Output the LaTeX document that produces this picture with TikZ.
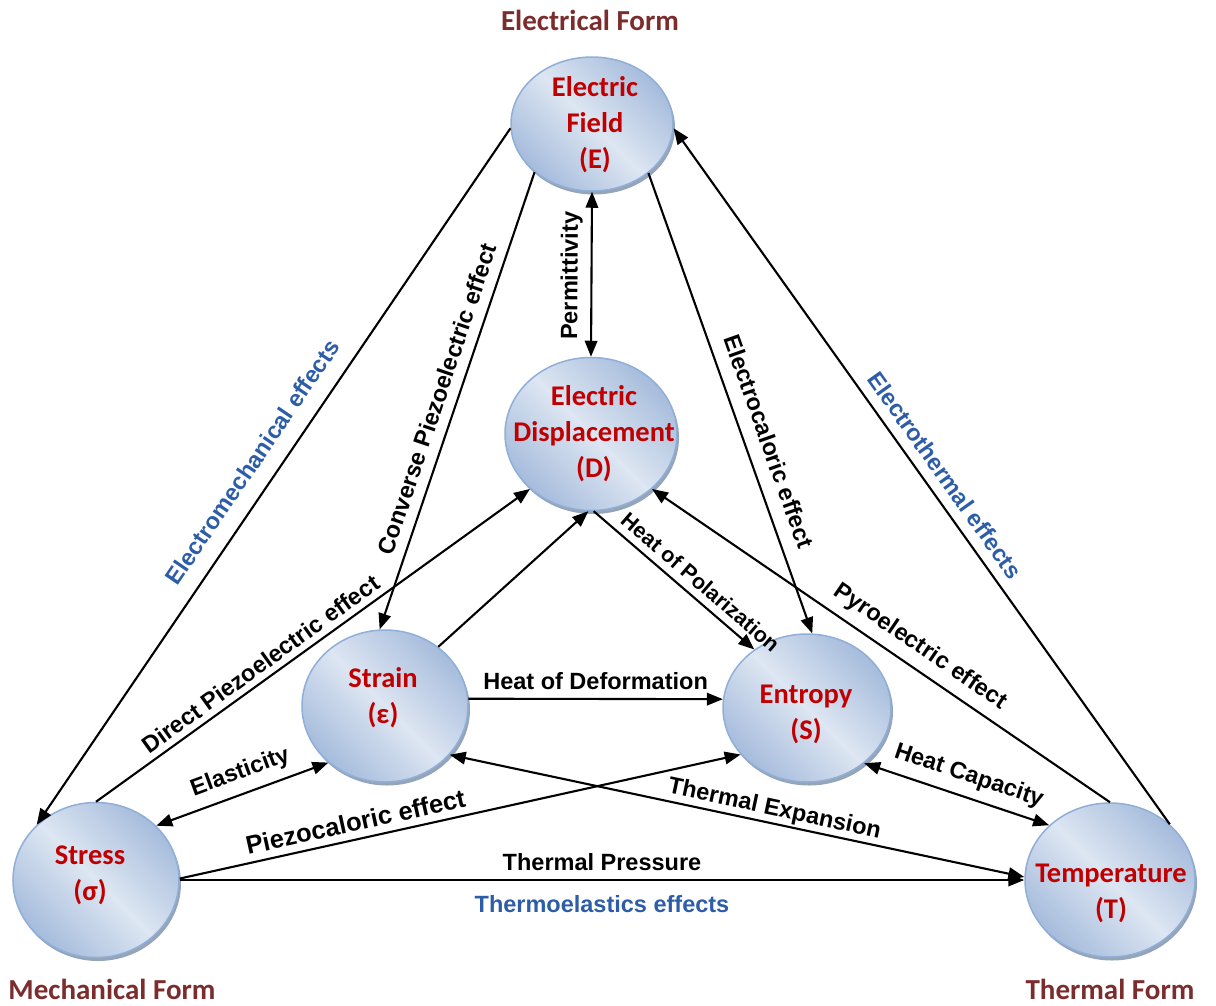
\documentclass[tikz,border=0pt]{standalone}
\usepackage{fontspec}
\setmainfont{Carlito}
\newfontfamily\arialfont{Liberation Sans}
\usetikzlibrary{arrows.meta,shapes.geometric,shadows}
\definecolor{nodered}{HTML}{C00000}
\definecolor{formred}{HTML}{7B2C2C}
\definecolor{effblue}{HTML}{2E5DA8}
\definecolor{nodedark}{HTML}{A6BCDC}
\definecolor{nodelight}{HTML}{DDE6F2}
\definecolor{nodeborder}{HTML}{8FAED8}
\definecolor{shadowcol}{HTML}{7C8DA6}
\begin{document}
\begin{tikzpicture}[x=1pt,y=-1pt,
  state/.style={ellipse, draw=nodeborder, line width=1.5pt, inner sep=0pt,
    top color=nodedark, bottom color=nodedark, middle color=nodelight, shading angle=-45,
    drop shadow={shadow xshift=2pt, shadow yshift=-3.5pt, fill=shadowcol, opacity=0.8}},
  statetext/.style={align=center, inner sep=0pt, text=nodered,
    font=\fontsize{28.5}{36}\selectfont\bfseries},
  con/.style={line width=2.1pt, -{Triangle[length=16pt,width=12.5pt]}},
  bicon/.style={line width=2.1pt, {Triangle[length=16pt,width=12.5pt]}-{Triangle[length=16pt,width=12.5pt]}},
  lab/.style={font=\arialfont\fontsize{23.5}{27}\selectfont\bfseries, sloped, inner sep=0pt},
  blab/.style={lab, text=effblue},
  form/.style={font=\fontsize{29}{34}\selectfont\bfseries, text=formred, inner sep=0pt}
]
\useasboundingbox (0,0) rectangle (1216,1005);

% nodes
\node[state, minimum width=162pt, minimum height=134pt] (E) at (592,124) {};
\node[state, minimum width=172pt, minimum height=153pt] (D) at (591,434) {};
\node[state, minimum width=166pt, minimum height=152pt] (St) at (385,706) {};
\node[state, minimum width=168pt, minimum height=148pt] (En) at (807,708) {};
\node[state, minimum width=166pt, minimum height=155pt] (Ss) at (96,880) {};
\node[state, minimum width=170pt, minimum height=154pt] (T) at (1110,880) {};

\node[statetext] (Et) at (595,125) {Electric\\Field\\(E)};
\node[statetext] (Dt) at (594,434) {Electric\\Displacement\\(D)};
\node[statetext] (Stt) at (383,698) {Strain\\(ε)};
\node[statetext] (Ent) at (806,714) {Entropy\\(S)};
\node[statetext] (Sst) at (90,875) {Stress\\(σ)};
\node[statetext] (Tt) at (1111,893) {Temperature\\(T)};

\node[form] (fE) at (590,20) {Electrical Form};
\node[form] (fM) at (112,989) {Mechanical Form};
\node[form] (fT) at (1110,989) {Thermal Form};

% connectors
\draw[con] (E.183) -- node[blab, above, pos=0.5, outer sep=17pt] {Electromechanical effects} (Ss.137);
\draw[con] (E.220) -- node[lab, above, pos=0.51, outer sep=11pt] {Converse Piezoelectric effect} (St.94);
\draw[bicon] (D.90) -- node[lab, above, pos=0.49, outer sep=9pt] {Permittivity} (E.270);
\draw[con] (E.319) -- node[lab, above, pos=0.6, outer sep=15pt] {Electrocaloric effect} (En.86);
\draw[con] (T.43) -- node[blab, above, pos=0.485, outer sep=11pt] {Electrothermal effects} (E.357);
\draw[con] (Ss.90) -- node[lab, above, pos=0.40, outer sep=7pt] {Direct Piezoelectric effect} (D.222);
\draw[con] (St.48) -- (D.268);
\draw[con] (D.272) -- node[lab, above, pos=0.6, outer sep=8pt, font=\arialfont\fontsize{21.5}{25}\selectfont\bfseries] {Heat of Polarization} (En.132);
\draw[con] (T.90) -- node[lab, above, pos=0.44, outer sep=10pt] {Pyroelectric effect} (D.318);
\draw[con] (St.5) -- node[lab, above, pos=0.5, outer sep=9pt] {Heat of Deformation} (En.174);
\draw[bicon] (Ss.42) -- node[lab, above, pos=0.53, outer sep=10pt] {Elasticity} (St.225);
\draw[bicon] (En.316) -- node[lab, above, pos=0.53, outer sep=10pt] {Heat Capacity} (T.138);
\draw[con] (Ss.1) -- node[lab, above, pos=0.32, outer sep=8pt, font=\arialfont\fontsize{25.5}{29}\selectfont\bfseries] {Piezocaloric effect} (En.215);
\draw[bicon] (St.323) -- node[lab, above, pos=0.56, outer sep=3pt] {Thermal Expansion} (T.178);
\draw[con] (Ss.0) -- node[lab, above, pos=0.5, outer sep=9pt] {Thermal Pressure}
  node[blab, below, pos=0.5, outer sep=15pt] {Thermoelastics effects} (T.180);
\end{tikzpicture}
\end{document}
